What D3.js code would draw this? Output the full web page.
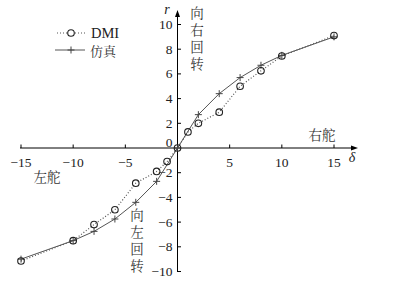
<!DOCTYPE html>
<html>
<head>
<meta charset="utf-8">
<script src="https://d3js.org/d3.v7.min.js"></script>
<style>
  body { margin: 0; background: #fff; }
</style>
</head>
<body>
<div id="chart"></div>
<script>
const width = 401, height = 284;
const serif = 'Times New Roman';
const cjk = 'Noto Serif CJK SC';

// data
const dmiX = [-15, -10, -8, -6, -4, -2, -1, 0, 1, 2, 4, 6, 8, 10, 15];
const dmiR = [-9.15, -7.5, -6.2, -5.0, -2.85, -1.9, -1.1, 0, 1.3, 2.0, 2.9, 5.0, 6.25, 7.45, 9.1];
const simX = [-15, -10, -8, -6, -4, -2, 0, 2, 4, 6, 8, 10, 15];
const simR = [-9.0, -7.5, -6.75, -5.75, -4.4, -2.7, 0, 2.7, 4.4, 5.7, 6.7, 7.5, 9.0];
const xTicks = [-15, -10, -5, 5, 10, 15];
const yTicks = [-10, -8, -6, -4, -2, 2, 4, 6, 8, 10];

const x = d3.scaleLinear().domain([-15, 15]).range([21, 334]);
const y = d3.scaleLinear().domain([-10, 10]).range([271.5, 24.5]);

const svg = d3.select('#chart').append('svg')
  .attr('width', width).attr('height', height);

const fmt = d => d < 0 ? '\u2212' + Math.abs(d) : String(d);

function num(sel, size) {
  return sel.attr('font-family', serif).attr('font-size', size || 13.5).attr('fill', '#222');
}
function han(sel, size) {
  return sel.attr('font-family', cjk).attr('font-size', size || 13.5).attr('fill', '#333');
}

// x axis
const xAxis = svg.append('g').attr('transform', `translate(0,${y(0)})`);
xAxis.append('line')
  .attr('x1', x(-15) - 1).attr('x2', 354)
  .attr('stroke', '#000').attr('stroke-width', 1);
xAxis.append('path')
  .attr('d', 'M358,0 L351,-2.5 L351,2.5 Z').attr('fill', '#000');
xAxis.selectAll('line.tick').data(xTicks).enter().append('line')
  .attr('class', 'tick')
  .attr('x1', d => x(d)).attr('x2', d => x(d))
  .attr('y1', 0).attr('y2', -3.5)
  .attr('stroke', '#000');
xAxis.selectAll('text.lab').data(xTicks).enter().append('text')
  .attr('class', 'lab')
  .call(num)
  .attr('x', d => x(d)).attr('y', 19)
  .attr('text-anchor', 'middle')
  .text(fmt);

// y axis
const yAxis = svg.append('g').attr('transform', `translate(${x(0)},0)`);
yAxis.append('line')
  .attr('y1', 272).attr('y2', 16)
  .attr('stroke', '#000').attr('stroke-width', 1);
yAxis.append('path')
  .attr('d', 'M0,10 L-2.5,17 L2.5,17 Z').attr('fill', '#000');
yAxis.selectAll('line.tick').data(yTicks).enter().append('line')
  .attr('class', 'tick')
  .attr('y1', d => y(d)).attr('y2', d => y(d))
  .attr('x1', 0).attr('x2', 3.5)
  .attr('stroke', '#000');
yAxis.selectAll('text.lab').data(yTicks).enter().append('text')
  .attr('class', 'lab')
  .call(num)
  .attr('x', -5).attr('y', d => y(d) + 4.5)
  .attr('text-anchor', 'end')
  .text(fmt);
yAxis.append('text').call(num)
  .attr('x', -5).attr('y', y(0) - 1)
  .attr('text-anchor', 'end').text('0');

// axis names
svg.append('text').call(num, 14)
  .attr('x', 167).attr('y', 14).attr('text-anchor', 'middle')
  .attr('font-style', 'italic').text('r');
svg.append('text').call(num, 14)
  .attr('x', 352).attr('y', 162).attr('text-anchor', 'middle')
  .attr('font-style', 'italic').text('δ');

// lines
const line = d3.line().x(d => x(d[0])).y(d => y(d[1]));
const dmi = dmiX.map((d, i) => [d, dmiR[i]]);
const sim = simX.map((d, i) => [d, simR[i]]);

svg.append('path').datum(sim)
  .attr('d', line).attr('fill', 'none')
  .attr('stroke', '#555').attr('stroke-width', 1);
svg.append('path').datum(dmi)
  .attr('d', line).attr('fill', 'none')
  .attr('stroke', '#555').attr('stroke-width', 1.2)
  .attr('stroke-dasharray', '1,2');

function cross(g, cx, cy) {
  g.append('path')
    .attr('d', `M${cx - 3.5},${cy} L${cx + 3.5},${cy} M${cx},${cy - 3.5} L${cx},${cy + 3.5}`)
    .attr('stroke', '#444').attr('stroke-width', 1);
}

const marks = svg.append('g');
sim.forEach(d => cross(marks, x(d[0]), y(d[1])));
marks.selectAll('circle').data(dmi).enter().append('circle')
  .attr('cx', d => x(d[0])).attr('cy', d => y(d[1]))
  .attr('r', 3.3).attr('fill', 'none')
  .attr('stroke', '#222').attr('stroke-width', 1.1);

// legend
const leg = svg.append('g');
leg.append('line').attr('x1', 57).attr('x2', 85).attr('y1', 33).attr('y2', 33)
  .attr('stroke', '#555').attr('stroke-width', 1.2).attr('stroke-dasharray', '1,2');
leg.append('circle').attr('cx', 71).attr('cy', 33).attr('r', 3.3)
  .attr('fill', '#fff').attr('stroke', '#222').attr('stroke-width', 1.1);
leg.append('text').call(num, 14.5)
  .attr('x', 91).attr('y', 37.5).text('DMI');
leg.append('line').attr('x1', 55).attr('x2', 85).attr('y1', 50).attr('y2', 50)
  .attr('stroke', '#555');
cross(leg, 71, 50);
leg.append('text').call(han, 13)
  .attr('x', 90).attr('y', 55.5).text('仿真');

// annotations (vertical text)
function vert(chars, cx, top) {
  svg.append('text').call(han)
    .attr('x', cx).attr('y', top)
    .style('writing-mode', 'vertical-rl')
    .style('letter-spacing', '3.5px')
    .text(chars);
}
vert('向右回转', 197, 6);
vert('向左回转', 137, 208);

svg.append('text').call(han)
  .attr('x', 322).attr('y', 140).attr('text-anchor', 'middle').text('右舵');
svg.append('text').call(han)
  .attr('x', 47).attr('y', 182).attr('text-anchor', 'middle').text('左舵');
</script>
</body>
</html>
